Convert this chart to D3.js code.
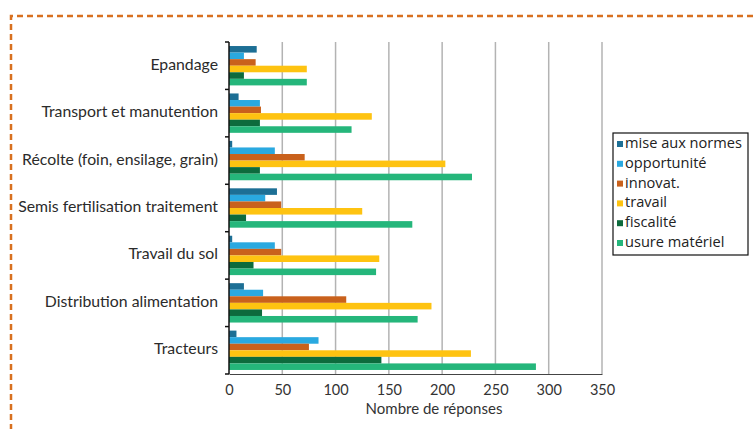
<!DOCTYPE html>
<html>
<head>
<meta charset="utf-8">
<script src="https://cdn.jsdelivr.net/npm/d3@7"></script>
<style>
  html, body { margin: 0; padding: 0; background: #fff; }
  svg { display: block; }
</style>
</head>
<body>
<svg id="chart" width="754" height="429"></svg>
<script>
// Equipment categories (top to bottom)
const categories = [
  "Epandage",
  "Transport et manutention",
  "Récolte (foin, ensilage, grain)",
  "Semis fertilisation traitement",
  "Travail du sol",
  "Distribution alimentation",
  "Tracteurs"
];

// Reasons (series), in drawing order within each group
const seriesNames = ["mise aux normes", "opportunité", "innovat.", "travail", "fiscalité", "usure matériel"];
const seriesColors = ["#1d6f95", "#2aa9e0", "#c9611c", "#fec311", "#0d6b3d", "#25b67b"];

// Number of answers per category, one array per series
const miseAuxNormes = [26, 9, 3, 45, 3, 14, 7];
const opportunite   = [14, 29, 43, 34, 43, 32, 84];
const innovat       = [25, 30, 71, 49, 49, 110, 75];
const travail       = [73, 134, 203, 125, 141, 190, 227];
const fiscalite     = [14, 29, 29, 16, 23, 31, 143];
const usureMateriel = [73, 115, 228, 172, 138, 177, 288];

const xTicks = [0, 50, 100, 150, 200, 250, 300, 350];
const xTitle = "Nombre de réponses";

const seriesValues = [miseAuxNormes, opportunite, innovat, travail, fiscalite, usureMateriel];

const svg = d3.select("#chart");
const font = "Lato, 'Open Sans', sans-serif";

// Dashed frame around the figure
svg.append("path")
  .attr("d", "M11,430 L11,16 L760,16")
  .attr("fill", "none")
  .attr("stroke", "#d8701f")
  .attr("stroke-width", 2.5)
  .attr("stroke-dasharray", "6,4");

const plot = { left: 229, right: 602, top: 42, bottom: 374 };

const x = d3.scaleLinear().domain([0, 350]).range([plot.left, plot.right]);
const y = d3.scaleBand().domain(categories).range([plot.top, plot.bottom]).paddingInner(0.17).paddingOuter(0.085);
const ySub = d3.scaleBand().domain(seriesNames).range([0, y.bandwidth()]);

// Vertical gridlines
svg.append("g")
  .selectAll("line")
  .data(xTicks.filter(d => d > 0))
  .join("line")
  .attr("x1", d => x(d)).attr("x2", d => x(d))
  .attr("y1", plot.top).attr("y2", plot.bottom)
  .attr("stroke", "#b3b3b3")
  .attr("stroke-width", 1.5);

// Bars
const groups = svg.append("g")
  .selectAll("g")
  .data(categories)
  .join("g")
  .attr("transform", d => `translate(0,${y(d)})`);

groups.selectAll("rect")
  .data((c, i) => seriesNames.map((s, j) => ({ s, j, v: seriesValues[j][i] })))
  .join("rect")
  .attr("x", x(0))
  .attr("y", d => ySub(d.s))
  .attr("width", d => x(d.v) - x(0))
  .attr("height", ySub.bandwidth())
  .attr("fill", d => seriesColors[d.j]);

// Category axis with ticks at band boundaries
const step = y.step();
const boundaries = d3.range(categories.length + 1).map(i => plot.top + i * step);
svg.append("line")
  .attr("x1", plot.left).attr("x2", plot.left)
  .attr("y1", plot.top).attr("y2", plot.bottom)
  .attr("stroke", "#111").attr("stroke-width", 1.5);
svg.append("g").selectAll("line")
  .data(boundaries)
  .join("line")
  .attr("x1", plot.left - 4).attr("x2", plot.left)
  .attr("y1", d => d).attr("y2", d => d)
  .attr("stroke", "#111").attr("stroke-width", 1.5);

svg.append("g").selectAll("text")
  .data(categories)
  .join("text")
  .attr("x", 218)
  .attr("y", d => y(d) + y.bandwidth() / 2)
  .attr("text-anchor", "end")
  .attr("dominant-baseline", "middle")
  .attr("font-family", font)
  .attr("font-size", 15.8)
  .attr("fill", "#2b2b2b")
  .text(d => d);

// Value axis
const xAxis = svg.append("g")
  .attr("transform", `translate(0,${plot.bottom})`)
  .call(d3.axisBottom(x).tickValues(xTicks).tickSize(0).tickPadding(11));
xAxis.select(".domain").attr("stroke", "#444").attr("stroke-width", 1.2);
xAxis.selectAll("text")
  .attr("font-family", font)
  .attr("font-size", 14.5)
  .attr("fill", "#333");

svg.append("text")
  .attr("x", 434)
  .attr("y", 414)
  .attr("text-anchor", "middle")
  .attr("font-family", font)
  .attr("font-size", 15)
  .attr("fill", "#333")
  .text(xTitle);

// Legend
const legend = svg.append("g").attr("transform", "translate(613,133)");
legend.append("rect")
  .attr("width", 135).attr("height", 122)
  .attr("fill", "#fff")
  .attr("stroke", "#111").attr("stroke-width", 1.2);
const items = legend.selectAll("g.item")
  .data(seriesNames)
  .join("g")
  .attr("class", "item")
  .attr("transform", (d, i) => `translate(4,${11 + i * 19.8})`);
items.append("rect")
  .attr("x", 0).attr("y", -3)
  .attr("width", 6).attr("height", 6)
  .attr("fill", (d, i) => seriesColors[i]);
items.append("text")
  .attr("x", 8)
  .attr("y", 0)
  .attr("dominant-baseline", "middle")
  .attr("font-family", "'Open Sans', sans-serif")
  .attr("font-size", 14.6)
  .attr("fill", "#222")
  .text(d => d);
</script>
</body>
</html>
